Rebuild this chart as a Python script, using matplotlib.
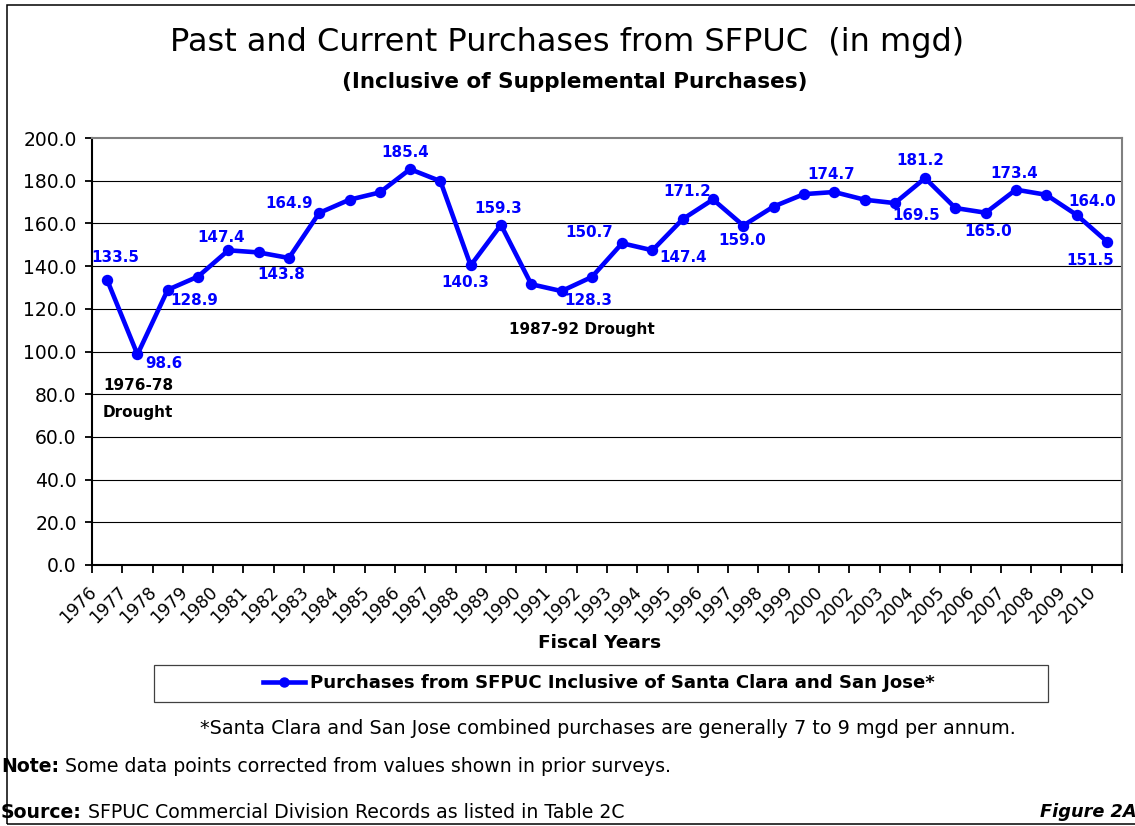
import matplotlib
matplotlib.use('Agg')
import matplotlib.pyplot as plt
from matplotlib.patches import Rectangle
from matplotlib.ticker import FixedLocator, NullFormatter
from matplotlib.transforms import offset_copy
import numpy as np

# ---------------- data ----------------
years = ['1976', '1977', '1978', '1979', '1980', '1981', '1982', '1983', '1984',
         '1985', '1986', '1987', '1988', '1989', '1990', '1991', '1992', '1993',
         '1994', '1995', '1996', '1997', '1998', '1999', '2000', '2002', '2003',
         '2004', '2005', '2006', '2007', '2008', '2009', '2010']
purchases = [133.5, 98.6, 128.9, 135.1, 147.4, 146.4, 143.8, 164.9, 171.1,
             174.5, 185.4, 179.8, 140.3, 159.3, 131.5, 128.3, 134.9, 150.7,
             147.4, 162.0, 171.2, 159.0, 167.9, 173.7, 174.7, 171.1, 169.5,
             181.2, 167.2, 165.0, 175.8, 173.4, 164.0, 151.5]
labeled_years = ['1976', '1977', '1978', '1980', '1982', '1983', '1986', '1988',
                 '1989', '1991', '1993', '1994', '1996', '1997', '2000', '2003',
                 '2004', '2006', '2008', '2009', '2010']
y_ticks = [0, 20, 40, 60, 80, 100, 120, 140, 160, 180, 200]

title = 'Past and Current Purchases from SFPUC  (in mgd)'
subtitle = '(Inclusive of Supplemental Purchases)'
series_name = 'Purchases from SFPUC Inclusive of Santa Clara and San Jose*'
x_title = 'Fiscal Years'
footnote = '*Santa Clara and San Jose combined purchases are generally 7 to 9 mgd per annum.'
note_head, note_body = 'Note:', ' Some data points corrected from values shown in prior surveys.'
src_head, src_body = 'Source:', ' SFPUC Commercial Division Records as listed in Table 2C'
fig_tag = 'Figure 2A'

# label offsets in pixels (dx right, dy down) -- styling only
label_offsets_px = {
    '1976': (8, -22), '1977': (26, 9), '1978': (27, 11), '1980': (-7, -13),
    '1982': (-8, 17), '1983': (-30, -9), '1986': (-5, -17), '1988': (-5, 17),
    '1989': (-3, -16), '1991': (27, 9), '1993': (-33, -11), '1994': (31, 7),
    '1996': (-26, -8), '1997': (-1, 15), '2000': (-3, -18), '2003': (21, 12),
    '2004': (-5, -18), '2006': (3, 19), '2008': (-32, -21), '2009': (16, -13),
    '2010': (-17, 19),
}

W, H = 1135, 826
BLUE = '#0000FF'
PX = 0.72  # points per pixel at dpi=100

plt.rcParams['font.family'] = ['DejaVu Sans']
fig = plt.figure(figsize=(W / 100, H / 100), dpi=100)
fig.patch.set_facecolor('white')


def fx(x):
    return x / W


def fy(y):
    return 1 - y / H


# outer frame
fig.add_artist(Rectangle((fx(7), fy(824)), fx(1150 - 7), (824 - 5) / H,
                         transform=fig.transFigure, fill=False,
                         edgecolor='black', lw=1.1))

ax = fig.add_axes([fx(92), fy(565), fx(1122 - 92), (565 - 138) / H])
x = np.arange(len(years))
line, = ax.plot(x, purchases, color=BLUE, lw=3.3, marker='o', ms=7.2,
                markerfacecolor=BLUE, markeredgecolor=BLUE, zorder=3,
                label=series_name)

ax.set_xlim(-0.5, len(years) - 0.5)
ax.set_ylim(0, 200)

for v in y_ticks[1:-1]:
    ax.axhline(v, color='black', lw=0.8, zorder=1)

ax.spines['left'].set_color('black')
ax.spines['left'].set_linewidth(1.5)
ax.spines['bottom'].set_color('black')
ax.spines['bottom'].set_linewidth(1.5)
ax.spines['top'].set_color('#808080')
ax.spines['top'].set_linewidth(1.5)
ax.spines['right'].set_color('#808080')
ax.spines['right'].set_linewidth(1.5)

ax.set_yticks(y_ticks)
ax.set_yticklabels([f'{v:.1f}' for v in y_ticks])
ax.tick_params(axis='y', direction='out', length=5, width=1.3,
               labelsize=13.5, pad=6)

# x ticks at category boundaries, labels at category centres
ax.xaxis.set_major_locator(FixedLocator(np.arange(-0.5, len(years), 1)))
ax.xaxis.set_major_formatter(NullFormatter())
ax.tick_params(axis='x', which='major', direction='out', length=6, width=1.3)
lab_tr = offset_copy(ax.get_xaxis_transform(), fig=fig,
                     x=-13.5 * PX, y=-24.5 * PX, units='points')
for i, yr in enumerate(years):
    ax.text(i, 0, yr, transform=lab_tr, rotation=45, rotation_mode='anchor',
            ha='right', va='center', fontsize=12.5, clip_on=False)

# data labels
for yr in labeled_years:
    i = years.index(yr)
    dx, dy = label_offsets_px[yr]
    ax.annotate(f'{purchases[i]:.1f}', (i, purchases[i]),
                xytext=(dx * PX, -dy * PX), textcoords='offset points',
                ha='center', va='center', color=BLUE, fontsize=10.9,
                fontweight='bold', zorder=4)

# drought annotations
fig.text(fx(103), fy(385), '1976-78', ha='left', va='center',
         fontsize=11, fontweight='bold')
fig.text(fx(103), fy(412), 'Drought', ha='left', va='center',
         fontsize=11, fontweight='bold')
fig.text(fx(582), fy(330), '1987-92 Drought', ha='center', va='center',
         fontsize=11, fontweight='bold')

# titles
fig.text(fx(567), fy(43), title, ha='center', va='center', fontsize=23)
fig.text(fx(575), fy(82), subtitle, ha='center', va='center', fontsize=15.5,
         fontweight='bold')

# axis title
fig.text(fx(600), fy(643), x_title, ha='center', va='center',
         fontsize=13.3, fontweight='bold')

# legend
fig.add_artist(Rectangle((fx(154), fy(702)), fx(1048 - 154), (702 - 665) / H,
                         transform=fig.transFigure, fill=False,
                         edgecolor='#404040', lw=0.9))
fig.legend(handles=[line], loc='center', bbox_to_anchor=(fx(599), fy(683)),
           frameon=False, handlelength=2.3, handletextpad=0.3,
           prop={'size': 13.1, 'weight': 'bold'}, markerscale=0.9)

# footnotes
fig.text(fx(608), fy(728), footnote, ha='center', va='center', fontsize=13.8)
t_note = fig.text(fx(1), fy(767), note_head, ha='left', va='center',
                  fontsize=13.6, fontweight='bold')
t_src = fig.text(fx(1), fy(812), src_head, ha='left', va='center',
                 fontsize=13.6, fontweight='bold')
fig.canvas.draw()
r = fig.canvas.get_renderer()
for tb, s, yy in [(t_note, note_body, 767), (t_src, src_body, 812)]:
    bb = tb.get_window_extent(r)
    fig.text(bb.x1 / W, fy(yy), s, ha='left', va='center', fontsize=13.6)
fig.text(fx(1040), fy(812), fig_tag, ha='left', va='center', fontsize=12.8,
         fontweight='bold', fontstyle='italic')

fig.savefig('out.png', dpi=100, facecolor='white')
